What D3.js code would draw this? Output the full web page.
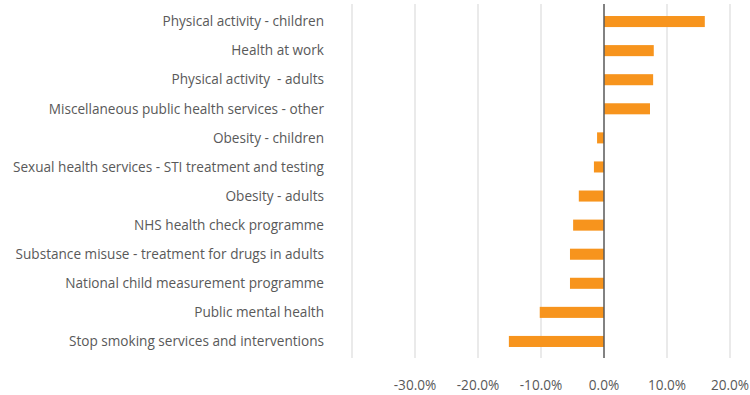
<!DOCTYPE html>
<html>
<head>
<meta charset="utf-8">
<script src="https://cdn.jsdelivr.net/npm/d3@7"></script>
<style>
  body { margin: 0; background: #fff; }
  text { font-family: "Open Sans", sans-serif; fill: #595959; white-space: pre; }
</style>
</head>
<body>
<div id="chart"></div>
<script>
// categories top to bottom
var categories = [
  "Physical activity - children",
  "Health at work",
  "Physical activity  - adults",
  "Miscellaneous public health services - other",
  "Obesity - children",
  "Sexual health services - STI treatment and testing",
  "Obesity - adults",
  "NHS health check programme",
  "Substance misuse - treatment for drugs in adults",
  "National child measurement programme",
  "Public mental health",
  "Stop smoking services and interventions"
];
// percent change
var values = [16.0, 7.9, 7.8, 7.3, -1.1, -1.6, -4.0, -4.9, -5.4, -5.4, -10.2, -15.1];
var gridTicks = [-40, -30, -20, -10, 0, 10, 20];
var labelTicks = [-30, -20, -10, 0, 10, 20];

var width = 750, height = 395;
var plotTop = 4, plotBottom = 358;

var svg = d3.select("#chart").append("svg")
  .attr("width", width)
  .attr("height", height);

var x = d3.scaleLinear()
  .domain([-40, 20])
  .range([352, 730]);

var y = d3.scaleBand()
  .domain(categories)
  .range([7, 356])
  .paddingInner(0.62)
  .paddingOuter(0.31);

// gridlines
svg.append("g")
  .selectAll("line")
  .data(gridTicks.filter(function(d) { return d !== 0; }))
  .enter().append("line")
  .attr("x1", function(d) { return x(d); })
  .attr("x2", function(d) { return x(d); })
  .attr("y1", plotTop)
  .attr("y2", plotBottom)
  .attr("stroke", "#e3e3e3")
  .attr("stroke-width", 1.5);

// bars
svg.append("g")
  .selectAll("rect")
  .data(values)
  .enter().append("rect")
  .attr("x", function(d) { return x(Math.min(0, d)); })
  .attr("width", function(d) { return Math.abs(x(d) - x(0)); })
  .attr("y", function(d, i) { return y(categories[i]); })
  .attr("height", y.bandwidth())
  .attr("fill", "#f7941d");

// zero axis
svg.append("line")
  .attr("x1", x(0)).attr("x2", x(0))
  .attr("y1", plotTop).attr("y2", plotBottom)
  .attr("stroke", "#595959")
  .attr("stroke-width", 1.5);

// category labels
svg.append("g")
  .selectAll("text")
  .data(categories)
  .enter().append("text")
  .attr("x", 324)
  .attr("y", function(d) { return y(d) + y.bandwidth() / 2; })
  .attr("dy", "0.35em")
  .attr("text-anchor", "end")
  .style("font-size", "13.6px")
  .text(function(d) { return d; });

// tick labels
svg.append("g")
  .selectAll("text")
  .data(labelTicks)
  .enter().append("text")
  .attr("x", function(d) { return x(d); })
  .attr("y", 385)
  .attr("dy", "0.35em")
  .attr("text-anchor", "middle")
  .style("font-size", "13.6px")
  .text(function(d) { return d3.format(".1f")(d).replace("\u2212", "-") + "%"; });
</script>
</body>
</html>
